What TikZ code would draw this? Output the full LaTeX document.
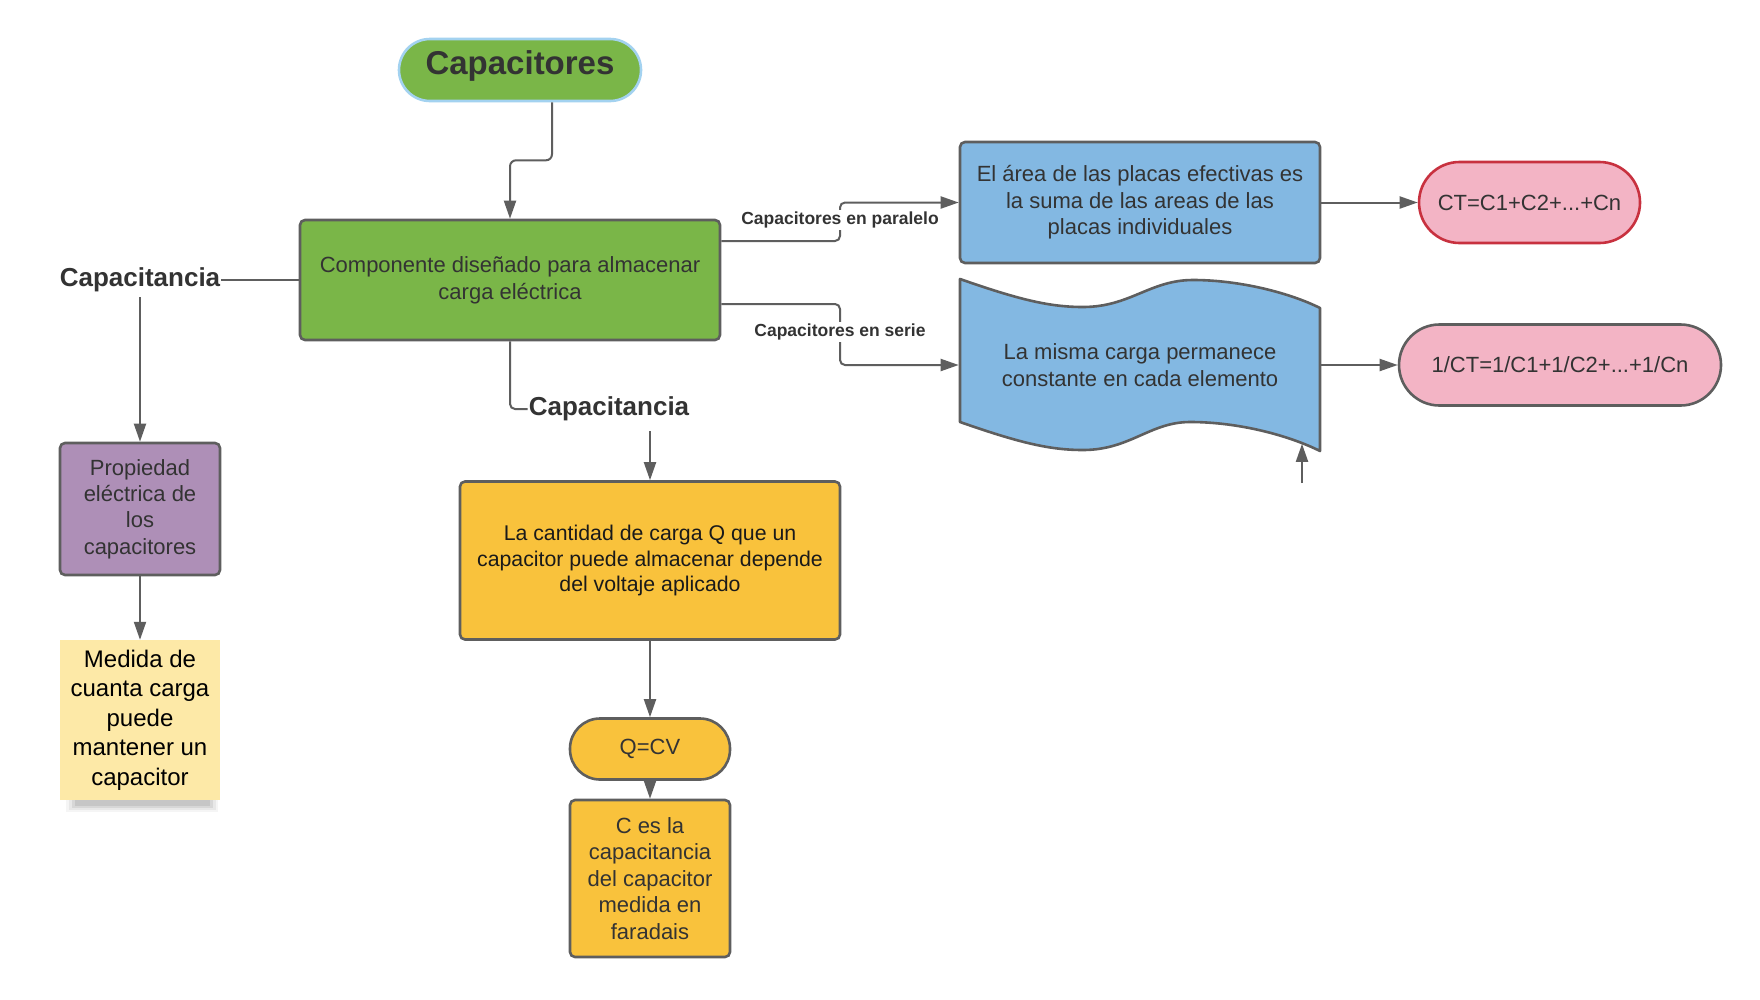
\documentclass[tikz,border=0pt]{standalone}
\usepackage{fontspec}
\setmainfont{Liberation Sans}
\usetikzlibrary{arrows.meta,calc}
\definecolor{lineC}{HTML}{5E5E5E}
\definecolor{greenC}{HTML}{7AB648}
\definecolor{pillB}{HTML}{A3D2F0}
\definecolor{purpleC}{HTML}{AE8FB7}
\definecolor{stickyC}{HTML}{FDE9A7}
\definecolor{yellowC}{HTML}{F9C23C}
\definecolor{blueC}{HTML}{83B8E2}
\definecolor{pinkC}{HTML}{F3B4C5}
\definecolor{redC}{HTML}{C8313F}
\definecolor{txt}{HTML}{333333}
\definecolor{txtB}{HTML}{1A1A1A}
\begin{document}
\begin{tikzpicture}[x=1pt,y=-1pt,
  box/.style={draw=lineC, line width=2.6pt, rounded corners=5pt, align=center, text=txt, inner sep=0pt},
  pill/.style={box, rounded corners=#1},
  f22/.style={font=\fontsize{22}{26.5}\selectfont},
  lab/.style={font=\bfseries\fontsize{17.5}{20}\selectfont, text=txt, fill=white, inner sep=2pt},
  biglab/.style={font=\bfseries\fontsize{26}{30}\selectfont, text=txt, inner sep=1pt},
  conn/.style={draw=lineC, line width=2pt},
  arr/.style={conn, -{Triangle[length=18pt,width=12pt]}}
]
\fill[white] (0,0) rectangle (1760,999);
\useasboundingbox (0,0) rectangle (1760,999);

% title pill
\node[draw=pillB, line width=2.6pt, fill=greenC, rounded corners=31pt, minimum width=242pt, minimum height=62pt, inner sep=0pt, font=\bfseries\fontsize{33}{40}\selectfont, text=txt] (cap) at (520,70) {\raisebox{4.5pt}[\height][\depth]{Capacitores}};

% main green box
\node[box, fill=greenC, minimum width=420pt, minimum height=120pt, font=\fontsize{22}{27}\selectfont] (green) at (510,280) {Componente diseñado para almacenar\\carga eléctrica};

% left branch
\node[biglab] (capL) at (140,280) {Capacitancia};
\node[box, fill=purpleC, minimum width=160pt, minimum height=132pt, font=\fontsize{22}{26.4}\selectfont] (purple) at (140,509) {Propiedad\\eléctrica de\\los\\capacitores};
\fill[black, opacity=0.04] (66,793) rectangle (218,812);
\fill[black, opacity=0.05] (69,793) rectangle (216,810);
\fill[black, opacity=0.07] (72,793) rectangle (213,808);
\fill[black, opacity=0.08] (75,793) rectangle (210,806);
\node[fill=stickyC, minimum width=160pt, minimum height=160pt, inner sep=0pt, align=center, font=\fontsize{24}{29.5}\selectfont, text=black] (note) at (140,720) {Medida de\\cuanta carga\\puede\\mantener un\\capacitor};

% middle branch
\node[biglab] (capB) at (609,409) {Capacitancia};
\node[box, fill=yellowC, text=txtB, minimum width=380pt, minimum height=158pt, font=\fontsize{21.3}{25.8}\selectfont] (yb) at (650,560.5) {La cantidad de carga Q que un\\capacitor puede almacenar depende\\del voltaje aplicado};
\node[pill=30pt, fill=yellowC, minimum width=160pt, minimum height=61pt, f22] (qcv) at (650,749) {Q=CV};
\node[box, fill=yellowC, minimum width=160pt, minimum height=157pt, font=\fontsize{22}{26.6}\selectfont] (ces) at (650,878.5) {C es la\\capacitancia\\del capacitor\\medida en\\faradais};

% right branch
\node[box, fill=blueC, minimum width=360pt, minimum height=121pt, f22] (blue) at (1140,202.5) {El área de las placas efectivas es\\la suma de las areas de las\\placas individuales};
\node[pill=40.5pt, draw=redC, fill=pinkC, minimum width=221pt, minimum height=81pt, f22] (pink1) at (1529.5,202.5) {CT=C1+C2+...+Cn};

\filldraw[fill=blueC, draw=lineC, line width=2.6pt, line join=round]
  (960,279) .. controls (1020,300) and (1050,307) .. (1083,307)
  .. controls (1130,307) and (1150,280) .. (1193,280)
  .. controls (1240,280) and (1290,293) .. (1320,308)
  -- (1320,451)
  .. controls (1290,436) and (1240,422) .. (1190,422)
  .. controls (1150,422) and (1130,450) .. (1083,450)
  .. controls (1050,450) and (1020,443) .. (960,422) -- cycle;
\node[minimum width=360pt, minimum height=173pt, inner sep=0pt, outer sep=1.3pt, align=center, text=txt, f22] (wave) at (1140,365) {La misma carga permanece\\constante en cada elemento};
\node[pill=40.5pt, fill=pinkC, minimum width=322pt, minimum height=81pt, f22] (pink2) at (1560,365) {1/CT=1/C1+1/C2+...+1/Cn};

% connectors
\draw[arr, rounded corners=6pt] ([xshift=32pt]cap.south) -- ++(0,58) -| (green.north);
\draw[conn] (capL.east) -- (green.west);
\draw[arr] ($(capL.south)+(0,4)$) -- (purple.north);
\draw[arr] (purple.south) -- (note.north);
\draw[conn, rounded corners=5pt] (green.south) |- (capB.west);
\coordinate (cbs) at ($(capB.south -| yb.north)+(0,9)$);
\draw[arr] (cbs) -- (yb.north);
\draw[arr] (yb.south) -- (qcv.north);
\draw[arr] (qcv.south) -- (ces.north);

\coordinate (parpos) at (840,220);
\coordinate (serpos) at (840,332);
\draw[arr, rounded corners=5pt] ($(green.east)+(0,-39)$) -| (parpos) |- (blue.west);
\draw[arr, rounded corners=5pt] ($(green.east)+(0,24)$) -| (serpos) |- (wave.west);
\draw[arr] (blue.east) -- (pink1.west);
\draw[arr] (wave.east) -- (pink2.west);
\coordinate (dang) at (1302,483);
\draw[arr] (dang) -- ($(dang |- wave.south)+(0,-9)$);

\node[lab] (par) at (parpos) {Capacitores en paralelo};
\node[lab] (ser) at (serpos) {Capacitores en serie};
\end{tikzpicture}
\end{document}
